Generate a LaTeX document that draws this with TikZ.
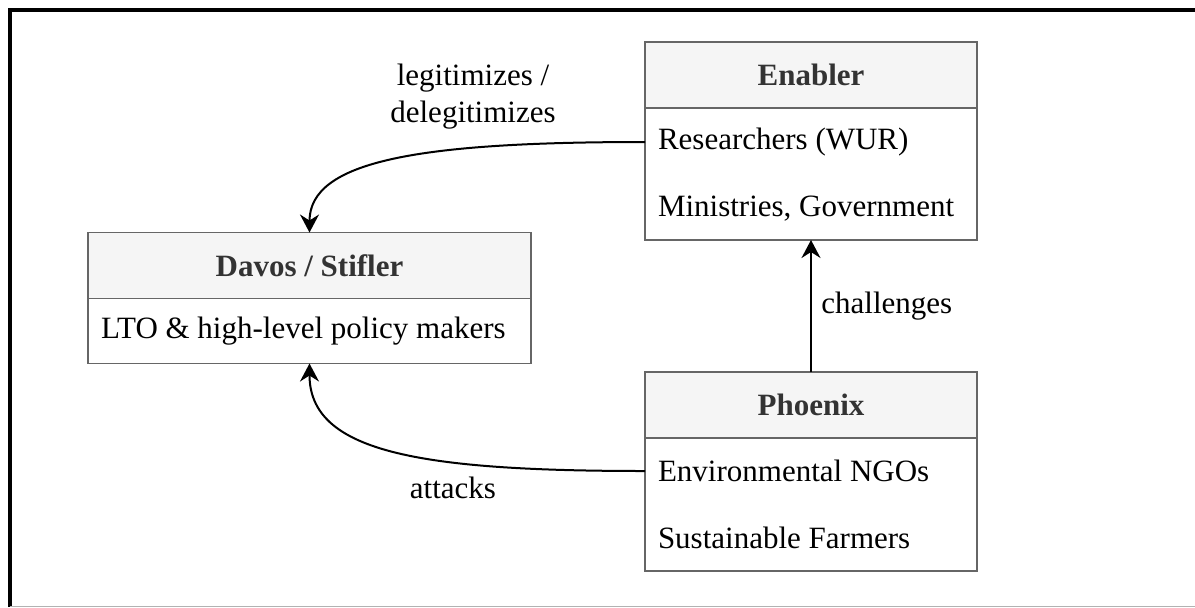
\documentclass[tikz,border=0pt]{standalone}
\usepackage{fontspec}
\setmainfont{Liberation Serif}
\usetikzlibrary{positioning,arrows.meta}

\definecolor{boxline}{HTML}{666666}
\definecolor{headfill}{HTML}{F5F5F5}
\definecolor{headtext}{HTML}{333333}
\newcommand{\diagfont}{\fontsize{15.5}{18.5}\selectfont}

\tikzset{
  box/.style={draw=boxline, line width=0.6pt, outer sep=0pt, inner sep=0pt},
  head/.style={box, fill=headfill, text=headtext, font=\diagfont\bfseries, minimum height=33pt},
  row/.style={text width=#1, align=flush left, inner xsep=6.5pt, inner ysep=0pt, outer sep=0pt},
  link/.style={line width=1pt, -{Stealth[length=9pt, width=9.5pt, inset=3pt]}},
  linklabel/.style={align=center, inner sep=0pt}
}

\begin{document}
\begin{tikzpicture}[x=0.5pt, y=-0.5pt, font=\diagfont]
  \useasboundingbox (0,0) rectangle (1195,607);
  % frame
  \draw[line width=2pt] (10,607) -- (10,10) -- (1195,10);
  \draw[gray!60, line width=0.5pt] (10,606) -- (1195,606);

  % Enabler
  \node[head, minimum width=166pt] (enabler) at (811,75) {Enabler};
  \node[box, minimum width=166pt, minimum height=66pt, below=0pt of enabler] (enablerBody) {};
  \node[row=153pt] (researchers) at (811,142) {Researchers (WUR)};
  \node[row=153pt] (ministries) at (811,209) {Ministries, Government};

  % Davos / Stifler
  \node[head, minimum width=221.5pt] (davos) at (309.5,265.5) {Davos / Stifler};
  \node[box, minimum width=221.5pt, minimum height=32.5pt, below=0pt of davos] (davosBody) {};
  \node[row=208.5pt] (lto) at (309.5,331) {LTO \& high-level policy makers};

  % Phoenix
  \node[head, minimum width=166pt] (phoenix) at (811,405) {Phoenix};
  \node[box, minimum width=166pt, minimum height=66.5pt, below=0pt of phoenix] (phoenixBody) {};
  \node[row=153pt] (ngos) at (811,471) {Environmental NGOs};
  \node[row=153pt] (farmers) at (811,538) {Sustainable Farmers};

  % connectors
  \draw[link] (researchers.west) .. controls +(-225,0) and +(0,-72) .. (davos.north);
  \draw[link] (ngos.west) .. controls +(-228,0) and +(0,88) .. (davosBody.south);
  \draw[link] (phoenix.north) -- (enablerBody.south);

  \node[linklabel] (legitLabel) at (473,97) {legitimizes /\\delegitimizes};
  \node[linklabel] (attackLabel) at (453,488) {attacks};
  \node[linklabel, anchor=west] (challengeLabel) at (821,306) {challenges};
\end{tikzpicture}
\end{document}
